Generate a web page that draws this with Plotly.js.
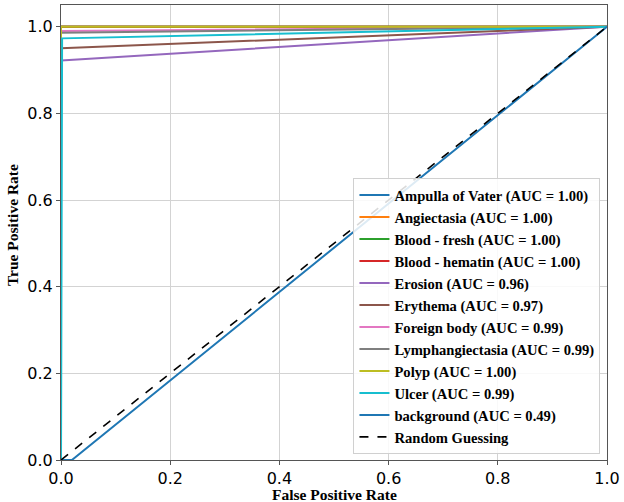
<!DOCTYPE html>
<html>
<head>
<meta charset="utf-8">
<script src="https://cdn.plot.ly/plotly-3.0.1.min.js"></script>
<style>html,body{margin:0;padding:0;background:#fff;}#chart{width:624px;height:502px;}</style>
</head>
<body>
<div id="chart"></div>
<script>
const classNames = ["Ampulla of Vater","Angiectasia","Blood - fresh","Blood - hematin","Erosion","Erythema","Foreign body","Lymphangiectasia","Polyp","Ulcer","background"];
const aucValues = ["1.00","1.00","1.00","1.00","0.96","0.97","0.99","0.99","1.00","0.99","0.49"];
const fprAmpulla = [0,0,1],      tprAmpulla = [0,1,1];
const fprAngiectasia = [0,0,1],  tprAngiectasia = [0,1,1];
const fprBloodFresh = [0,0,1],   tprBloodFresh = [0,1,1];
const fprBloodHematin = [0,0,1], tprBloodHematin = [0,1,1];
const fprErosion = [0,0,1],      tprErosion = [0,0.922,1];
const fprErythema = [0,0,1],     tprErythema = [0,0.950,1];
const fprForeign = [0,0,1],      tprForeign = [0,0.990,1];
const fprLymph = [0,0,1],        tprLymph = [0,0.986,1];
const fprPolyp = [0,0,1],        tprPolyp = [0,1,1];
const fprUlcer = [0,0.002,1],    tprUlcer = [0,0.973,1];
const fprBackground = [0,0.02,1],tprBackground = [0,0,1];
const fprRandom = [0,1],         tprRandom = [0,1];
const xTicks = [0,0.2,0.4,0.6,0.8,1.0];
const yTicks = [0,0.2,0.4,0.6,0.8,1.0];
const xTitle = 'False Positive Rate';
const yTitle = 'True Positive Rate';

const colors = ["#1f77b4","#ff7f0e","#2ca02c","#d62728","#9467bd","#8c564b","#e377c2","#7f7f7f","#bcbd22","#17becf","#1f77b4"];
const fprs = [fprAmpulla,fprAngiectasia,fprBloodFresh,fprBloodHematin,fprErosion,fprErythema,fprForeign,fprLymph,fprPolyp,fprUlcer,fprBackground];
const tprs = [tprAmpulla,tprAngiectasia,tprBloodFresh,tprBloodHematin,tprErosion,tprErythema,tprForeign,tprLymph,tprPolyp,tprUlcer,tprBackground];

const traces = classNames.map((n,i)=>({
  x: fprs[i], y: tprs[i], type:'scatter', mode:'lines',
  name: n + ' (AUC = ' + aucValues[i] + ')',
  line:{color:colors[i], width:2}
}));
traces.push({x:fprRandom, y:tprRandom, type:'scatter', mode:'lines', name:'Random Guessing', line:{color:'#000', width:1.6, dash:'dash'}});

const titleFont = {family:'Liberation Serif', size:15.5, weight:'bold', color:'#000'};
const axisCommon = {
  showgrid:true, gridcolor:'#d3d3d3', gridwidth:1,
  zeroline:false, showline:true, linecolor:'#555', linewidth:1, mirror:true,
  ticks:'outside', ticklen:4, tickcolor:'#555',
  tickfont:{family:'DejaVu Sans', size:16, color:'#000'}
};
const layout = {
  width:624, height:502,
  margin:{l:61, r:17, t:5, b:42},
  paper_bgcolor:'#fff', plot_bgcolor:'#fff',
  showlegend:true,
  xaxis: Object.assign({}, axisCommon, {range:[0,1], tickvals:xTicks, ticktext:xTicks.map(v=>v.toFixed(1))}),
  yaxis: Object.assign({}, axisCommon, {range:[0,1.05], tickvals:yTicks, ticktext:yTicks.map(v=>v.toFixed(1))}),
  annotations:[
    {text:xTitle, xref:'paper', yref:'paper', x:0.5, y:-0.075, xanchor:'center', yanchor:'middle', showarrow:false, font:titleFont},
    {text:yTitle, xref:'paper', yref:'paper', x:-0.09, y:0.516, xanchor:'center', yanchor:'middle', textangle:-90, showarrow:false, font:titleFont}
  ],
  legend:{x:0.988, y:0.013, xanchor:'right', yanchor:'bottom',
    bgcolor:'rgba(255,255,255,0.85)', bordercolor:'#d0d0d0', borderwidth:1,
    font:{family:'Liberation Serif', size:14.6, weight:'bold', color:'#000'},
    tracegroupgap:0, itemwidth:30}
};
Plotly.newPlot('chart', traces, layout, {staticPlot:true, displayModeBar:false});
</script>
</body>
</html>
